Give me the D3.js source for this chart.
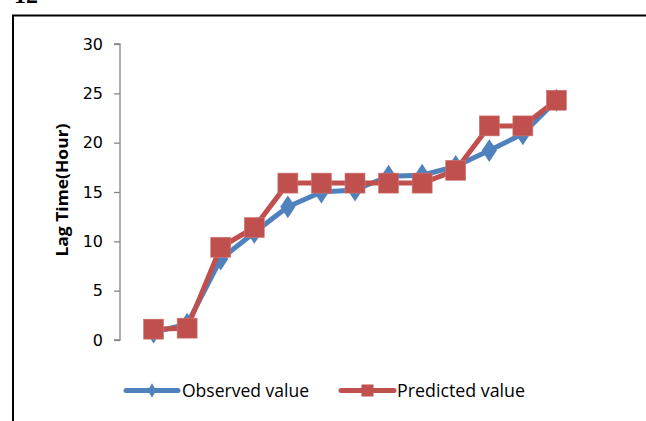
<!DOCTYPE html>
<html>
<head>
<meta charset="utf-8">
<script src="https://cdn.jsdelivr.net/npm/d3@7"></script>
<style>
  html, body { margin: 0; padding: 0; background: #fff; }
  svg { display: block; }
</style>
</head>
<body>
<svg id="chart" width="646" height="421"></svg>
<script>
// Sample index along the horizontal axis (no labels shown)
const samples = [1, 2, 3, 4, 5, 6, 7, 8, 9, 10, 11, 12, 13];
// Lag time in hours
const observed  = [0.8, 1.6, 8.2, 10.9, 13.5, 15.0, 15.2, 16.6, 16.7, 17.6, 19.2, 20.9, 24.3];
const predicted = [1.1, 1.2, 9.4, 11.4, 15.9, 15.9, 15.9, 15.9, 15.9, 17.2, 21.7, 21.7, 24.3];
const yTicks = [0, 5, 10, 15, 20, 25, 30];
const seriesNames = ["Observed value", "Predicted value"];

const BLUE = "#4F81BD";
const RED = "#C0504D";
const FONT = "'Open Sans', 'DejaVu Sans', sans-serif";

const svg = d3.select("#chart");

// Figure number partly cut at the top edge
svg.append("text")
  .attr("x", 14).attr("y", 3)
  .attr("font-family", "'Liberation Serif', serif")
  .attr("font-weight", "bold")
  .attr("font-size", 24)
  .text("12");

// Chart frame (right and bottom sides run off the page)
svg.append("path")
  .attr("d", "M13,421 V15.5 H646")
  .attr("fill", "none")
  .attr("stroke", "#000")
  .attr("stroke-width", 2);

const x = d3.scaleLinear().domain([0, 14]).range([120, 590]);
const y = d3.scaleLinear().domain([0, 30]).range([340, 44]);

// Vertical axis
const yAxis = d3.axisLeft(y).tickValues(yTicks).tickSize(6).tickPadding(11);
const gy = svg.append("g").attr("transform", "translate(120,0)").call(yAxis);
gy.select(".domain").attr("stroke", "#868686").attr("stroke-width", 1.3)
  .attr("d", `M-6,${y(30)}H0V${y(0)}H-6`);
gy.selectAll(".tick line").attr("stroke", "#868686").attr("stroke-width", 1.3);
gy.selectAll(".tick text")
  .attr("font-family", "'DejaVu Sans', sans-serif").attr("font-size", 16).attr("fill", "#000");

// Axis title
svg.append("text")
  .attr("transform", `translate(68,${y(15.2)}) rotate(-90)`)
  .attr("text-anchor", "middle")
  .attr("font-family", FONT)
  .attr("font-weight", "bold")
  .attr("font-size", 16.5)
  .attr("textLength", 133)
  .attr("lengthAdjust", "spacingAndGlyphs")
  .text("Lag Time(Hour)");

const line = d3.line().x((d, i) => x(samples[i])).y(d => y(d));

const diamond = d3.symbol().type(d3.symbolDiamond).size(150);

// Observed series
svg.append("path").datum(observed)
  .attr("d", line).attr("fill", "none")
  .attr("stroke", BLUE).attr("stroke-width", 5).attr("stroke-linejoin", "round");
svg.append("g").selectAll("path").data(observed).join("path")
  .attr("d", diamond)
  .attr("transform", (d, i) => `translate(${x(samples[i])},${y(d)}) scale(1.15,1)`)
  .attr("fill", BLUE);

// Predicted series
svg.append("path").datum(predicted)
  .attr("d", line).attr("fill", "none")
  .attr("stroke", RED).attr("stroke-width", 5).attr("stroke-linejoin", "round");
svg.append("g").selectAll("rect").data(predicted).join("rect")
  .attr("x", (d, i) => x(samples[i]) - 10)
  .attr("y", d => y(d) - 10)
  .attr("width", 20).attr("height", 20)
  .attr("fill", RED)
  .attr("stroke", "#d07a77").attr("stroke-width", 0.6);

// Legend
const legendY = 390.5;
const legendItems = [
  { name: seriesNames[0], color: BLUE, x0: 126, x1: 178, tx: 182, w: 127, marker: "diamond" },
  { name: seriesNames[1], color: RED,  x0: 341, x1: 394, tx: 397, w: 128, marker: "square" }
];
const lg = svg.append("g").selectAll("g").data(legendItems).join("g");
lg.append("line")
  .attr("x1", d => d.x0).attr("x2", d => d.x1)
  .attr("y1", legendY).attr("y2", legendY)
  .attr("stroke", d => d.color).attr("stroke-width", 5).attr("stroke-linecap", "round");
lg.filter(d => d.marker === "diamond").append("path")
  .attr("d", d3.symbol().type(d3.symbolDiamond).size(60))
  .attr("transform", d => `translate(${(d.x0 + d.x1) / 2},${legendY})`)
  .attr("fill", d => d.color);
lg.filter(d => d.marker === "square").append("rect")
  .attr("x", d => (d.x0 + d.x1) / 2 - 6).attr("y", legendY - 6)
  .attr("width", 12).attr("height", 12)
  .attr("fill", d => d.color);
lg.append("text")
  .attr("x", d => d.tx).attr("y", legendY + 6.5)
  .attr("font-family", FONT).attr("font-size", 17.5)
  .attr("textLength", d => d.w)
  .attr("lengthAdjust", "spacingAndGlyphs")
  .text(d => d.name);
</script>
</body>
</html>
